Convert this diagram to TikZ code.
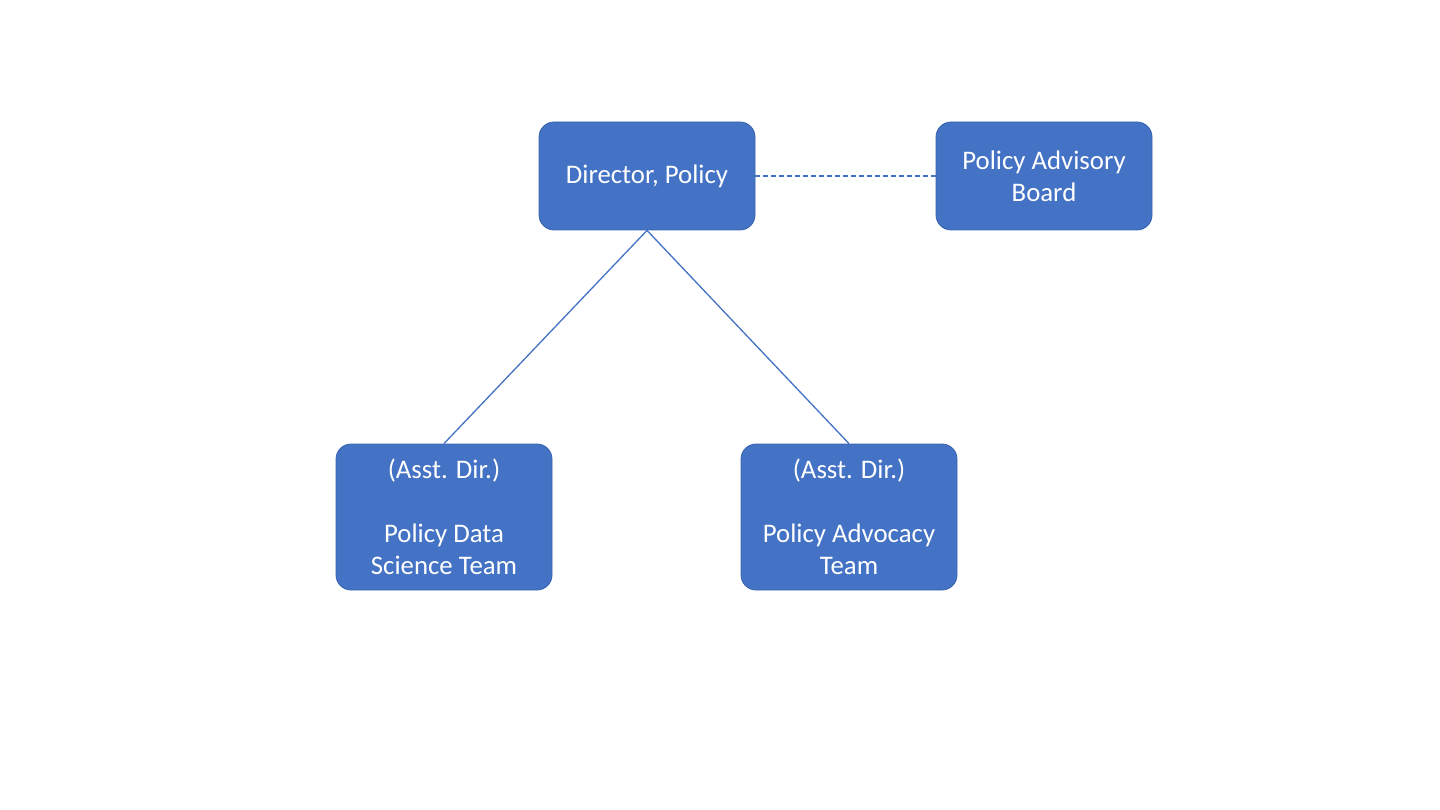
\documentclass[tikz,border=0pt]{standalone}
\usepackage{fontspec}
\setmainfont{Carlito}
\definecolor{boxfill}{HTML}{4472C4}
\definecolor{boxline}{HTML}{3A64AE}
\begin{document}
\begin{tikzpicture}[x=1pt,y=-1pt,
  orgbox/.style={draw=boxline, line width=0.8pt, fill=boxfill, rounded corners=15pt,
    minimum width=216pt, text=white, align=center, inner sep=0pt,
    font=\fontsize{26.8}{32}\selectfont},
  conn/.style={draw=boxfill, line width=1.3pt}]
\useasboundingbox[fill=white] (0,0) rectangle (1440,810);
\node[orgbox, minimum height=108pt] (dir) at (647,176) {Director, Policy};
\node[orgbox, minimum height=108pt] (adv) at (1044,176) {Policy Advisory\\Board};
\node[orgbox, minimum height=146pt] (ds) at (444,517) {(Asst. Dir.)\\[32pt]Policy Data\\Science Team};
\node[orgbox, minimum height=146pt] (pa) at (849,517) {(Asst. Dir.)\\[32pt]Policy Advocacy\\Team};
\draw[conn] (dir.south) -- (ds.north);
\draw[conn] (dir.south) -- (pa.north);
\draw[conn, dash pattern=on 5pt off 3pt] (dir.east) -- (adv.west);
\end{tikzpicture}
\end{document}
